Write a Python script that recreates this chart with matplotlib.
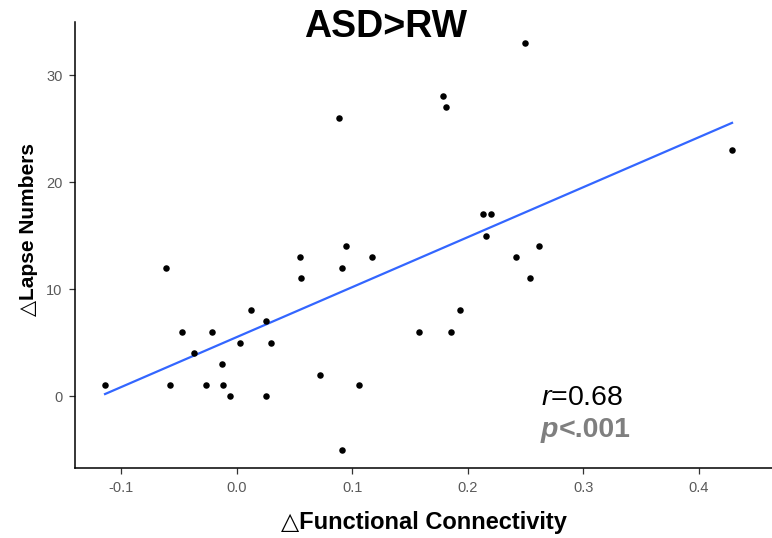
import numpy as np
import matplotlib
matplotlib.use("Agg")
import matplotlib.pyplot as plt

plt.rcParams['font.family'] = ['Liberation Sans', 'DejaVu Sans']
plt.rcParams['mathtext.fontset'] = 'custom'
plt.rcParams['mathtext.rm'] = 'Liberation Sans'
plt.rcParams['mathtext.it'] = 'Liberation Sans:italic'

# change in functional connectivity vs change in lapse numbers
fc_change = [-0.114, -0.061, -0.058, -0.047, -0.037, -0.027, -0.021, -0.013, -0.012,
             -0.006, 0.003, 0.012, 0.025, 0.030, 0.025, 0.055, 0.056, 0.072, 0.089,
             0.091, 0.095, 0.091, 0.106, 0.117, 0.158, 0.186, 0.193, 0.242, 0.254,
             0.213, 0.220, 0.216, 0.262, 0.179, 0.181, 0.250, 0.429]
lapse_change = [1, 12, 1, 6, 4, 1, 6, 3, 1,
                0, 5, 8, 7, 5, 0, 13, 11, 2, 26,
                12, 14, -5, 1, 13, 6, 6, 8, 13, 11,
                17, 17, 15, 14, 28, 27, 33, 23]

x_ticks = [-0.1, 0.0, 0.1, 0.2, 0.3, 0.4]
x_tick_labels = ['-0.1', '0.0', '0.1', '0.2', '0.3', '0.4']
y_ticks = [0, 10, 20, 30]

x = np.array(fc_change)
y = np.array(lapse_change)

fig = plt.figure(figsize=(7.72, 5.38), dpi=100)
ax = fig.add_axes([0.0972, 0.130, 0.9028, 0.829])

ax.scatter(x, y, s=22, color='black', zorder=3, linewidths=0)

# linear fit like geom_smooth(method = lm, se = FALSE)
slope, intercept = np.polyfit(x, y, 1)
xs = np.linspace(x.min(), x.max(), 100)
ax.plot(xs, slope * xs + intercept, color='#3366FF', lw=1.6, zorder=2)

ax.set_xlim(-0.14, 0.4636)
ax.set_ylim(-6.73, 34.95)
ax.set_xticks(x_ticks)
ax.set_xticklabels(x_tick_labels)
ax.set_yticks(y_ticks)

for side in ['top', 'right']:
    ax.spines[side].set_visible(False)
for side in ['left', 'bottom']:
    ax.spines[side].set_linewidth(1.1)
ax.tick_params(axis='both', direction='out', length=4, width=0.9, colors='#333333',
               labelcolor='#5A5A5A', labelsize=10.5, pad=5)

ax.set_xlabel('△Functional Connectivity', fontsize=17, fontweight='bold')
ax.xaxis.label.set_va('center')
ax.xaxis.set_label_coords(0.5, -0.121)
ax.set_ylabel('△Lapse Numbers', fontsize=15, fontweight='bold')
ax.yaxis.label.set_va('center')
ax.yaxis.set_label_coords(-0.067, 0.535)

fig.text(0.5, 0.950, 'ASD>RW', ha='center', va='center', fontsize=27, fontweight='bold')

ax.text(0.2636, -0.2, r'$\mathit{r}$=0.68', fontsize=20.5, va='center', ha='left', color='black')
p_txt = ax.text(0.2636, -3.2, 'p', fontsize=20.5, va='center', ha='left',
                color='#7F7F7F', fontweight='bold', fontstyle='italic')
ax.annotate('<.001', xy=(1, 0), xycoords=p_txt, va='bottom', ha='left',
            fontsize=20.5, fontweight='bold', color='#7F7F7F')

fig.savefig('out.png', dpi=100)
